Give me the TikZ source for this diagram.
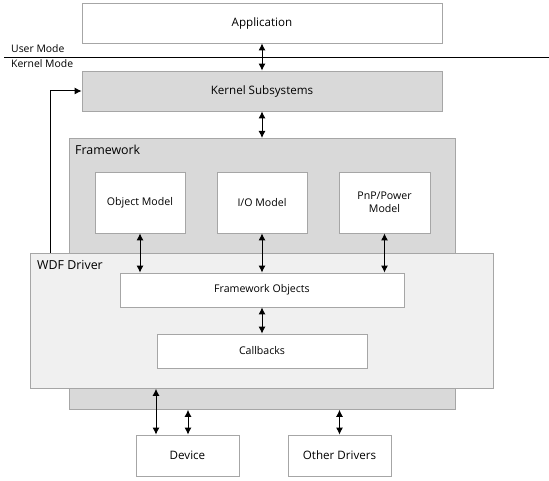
\documentclass[tikz,border=0pt]{standalone}
\usepackage{fontspec}
\setmainfont{Open Sans}
\usetikzlibrary{arrows.meta}
\definecolor{bordc}{HTML}{A6A6A6}
\definecolor{darkfill}{HTML}{D9D9D9}
\definecolor{lightfill}{HTML}{F0F0F0}
\tikzset{
  box/.style={draw=bordc, line width=0.8pt, fill=white, inner sep=0pt},
  graybox/.style={draw=bordc, line width=0.8pt, fill=darkfill},
  lightbox/.style={draw=bordc, line width=0.8pt, fill=lightfill},
  dbl/.style={{Latex[length=7pt,width=7pt]}-{Latex[length=7pt,width=7pt]}, line width=1pt},
  sgl/.style={-{Latex[length=7pt,width=7pt]}, line width=1pt},
  lbl/.style={font=\fontsize{10.6}{12.5}\selectfont, align=center},
  mid/.style={font=\fontsize{11.6}{13}\selectfont},
  small/.style={font=\fontsize{10.4}{12}\selectfont},
  biglbl/.style={font=\fontsize{12.4}{14}\selectfont, anchor=north west, inner sep=0pt},
}
\begin{document}
\begin{tikzpicture}[x=1pt,y=-1pt]
\useasboundingbox (0,0) rectangle (549,481);
% boxes
\node[box, minimum width=360pt, minimum height=40pt, mid] (app) at (262,23) {Application};
\draw[line width=0.9pt] (4,57) coordinate (lineL) -- (549,57) coordinate (lineR);
\node[anchor=base west, inner sep=0pt, small] (um) at (11,53) {User Mode};
\node[anchor=base west, inner sep=0pt, small] (km) at (11,68) {Kernel Mode};
\node[graybox, minimum width=360pt, minimum height=40pt, mid] (ks) at (262,91) {Kernel Subsystems};
% framework
\node[graybox, minimum width=386pt, minimum height=271pt, anchor=north west] (fw) at (69,138) {};
\node[biglbl] (fwl) at (75,145) {Framework};
\node[box, minimum width=90pt, minimum height=61pt, lbl] (om) at (140,202.5) {Object Model};
\node[box, minimum width=90pt, minimum height=61pt, lbl] (io) at (262,202.5) {I/O Model};
\node[box, minimum width=91pt, minimum height=61pt, lbl] (pnp) at (384.5,202.5) {PnP/Power\\Model};
% WDF driver
\node[lightbox, minimum width=463pt, minimum height=135pt, anchor=north west] (wdf) at (30,253) {};
\node[biglbl] (wdfl) at (37,260) {WDF Driver};
\node[box, minimum width=284pt, minimum height=34pt, lbl] (fo) at (262,290) {Framework Objects};
\node[box, minimum width=210pt, minimum height=34pt, lbl] (cb) at (262,351) {Callbacks};
% bottom
\node[box, minimum width=103pt, minimum height=41pt, mid] (dev) at (187.5,455.5) {Device};
\node[box, minimum width=103pt, minimum height=41pt, mid] (od) at (339.5,455.5) {Other Drivers};
% arrows
\draw[dbl] (app.south) -- (ks.north);
\draw[dbl] (ks.south) -- (fw.north -| ks.south);
\draw[dbl] (om.south) -- (fo.north -| om.south);
\draw[dbl] (io.south) -- (fo.north -| io.south);
\draw[dbl] (pnp.south) -- (fo.north -| pnp.south);
\draw[dbl] (fo.south) -- (cb.north);
\draw[dbl] (wdf.south -| 156,0) -- (dev.north -| 156,0);
\draw[dbl] (fw.south -| 188,0) -- (dev.north -| 188,0);
\draw[dbl] (fw.south -| od.north) -- (od.north);
\draw[sgl] (wdf.north -| 50,0) |- (ks.west);
\end{tikzpicture}
\end{document}
